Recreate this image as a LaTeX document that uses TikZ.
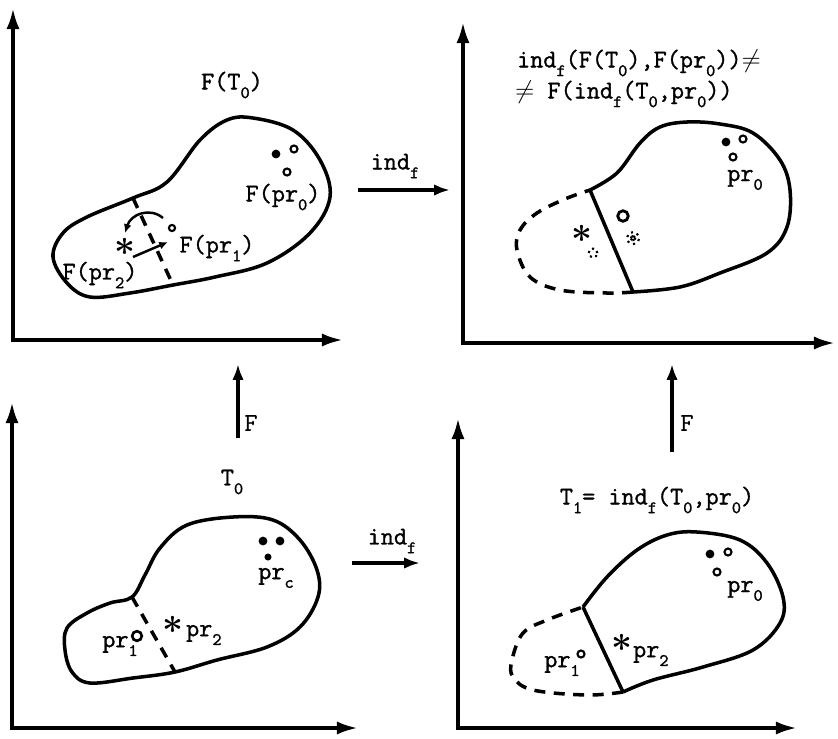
\documentclass[tikz,border=0pt]{standalone}
\usepackage{fontspec}
\setmonofont[FakeBold=1.2]{Latin Modern Mono}
\usetikzlibrary{arrows.meta,positioning,calc}
\newcommand{\lo}[1]{\raisebox{-0.8ex}{\fontsize{10}{10}\selectfont#1}}
\tikzstyle{axis} = [line width=2.1pt, {Latex[length=12pt,width=7.5pt]}-{Latex[length=12pt,width=7.5pt]}]
\tikzstyle{map} = [line width=2.1pt, -{Latex[length=9pt,width=6.5pt]}]
\tikzstyle{region} = [line width=2pt, line join=round]
\tikzstyle{cut} = [line width=2pt, dash pattern=on 2.2mm off 1.7mm]
\tikzstyle{lbl} = [font=\ttfamily\fontsize{14.5}{17}\selectfont, inner sep=1pt]
\tikzstyle{dot} = [circle, fill=black, inner sep=0, minimum size=5pt]
\tikzstyle{ring} = [circle, draw, line width=1.2pt, inner sep=0, minimum size=4pt]
\tikzstyle{asterisk} = [inner sep=0, font=\boldmath\fontsize{20}{20}\selectfont]

\begin{document}
\begin{tikzpicture}[x=0.02cm,y=-0.02cm]
        \useasboundingbox (0,0) rectangle (838,738);

        % axes
        \coordinate (tl-o) at (13,340);  \coordinate (tl-y) at (13,8);   \coordinate (tl-x) at (343,340);
        \coordinate (tr-o) at (463,343); \coordinate (tr-y) at (463,22);  \coordinate (tr-x) at (835,343);
        \coordinate (bl-o) at (12,728);  \coordinate (bl-y) at (12,402);  \coordinate (bl-x) at (358,728);
        \coordinate (br-o) at (458,728); \coordinate (br-y) at (458,418); \coordinate (br-x) at (797,728);
        \draw[axis] (tl-y) -- (tl-o) -- (tl-x);
        \draw[axis] (tr-y) -- (tr-o) -- (tr-x);
        \draw[axis] (bl-y) -- (bl-o) -- (bl-x);
        \draw[axis] (br-y) -- (br-o) -- (br-x);

        % top left: F(T_0)
        \draw[region] plot[smooth cycle, tension=0.6] coordinates {(253,118) (293,130) (320,160) (330,197) (310,233) (267,263) (215,277) (173,285) (130,293) (90,297) (67,283) (53,257) (63,233) (87,217) (133,198) (167,182) (200,140) (227,120)};
        \draw[cut] (133,198) -- (173,285);
        \node[lbl] (FT) at (232,85) {F(T\lo{0})};
        \node[dot] (a1) at (276,154) {};
        \node[ring] (a2) at (294,149) {};
        \node[ring] (a3) at (287,172) {};
        \node[lbl] (Fpr0) at (283,197) {F(pr\lo{0})};
        \node[asterisk] (s1) at (125,247) {$\ast$};
        \node[ring, minimum size=3.5pt] (r1) at (172,228) {};
        \node[lbl] (Fpr1) at (217,248) {F(pr\lo{1})};
        \node[lbl] (Fpr2) at (100,275) {F(pr\lo{2})};
        \coordinate (arc-a) at (163,218);
        \coordinate (arc-b) at (125,233);
        \coordinate (sw-a) at (133,257);
        \coordinate (sw-b) at (168,242);
        \draw[line width=1.4pt, -{Latex[length=5pt,width=4.5pt]}] (arc-a) .. controls (150,207) and (131,214) .. (arc-b);
        \draw[line width=1.4pt, -{Latex[length=5pt,width=4.5pt]}] (sw-a) -- (sw-b);

        % top right
        \draw[region] plot[smooth, tension=0.6] coordinates {(590,190) (617,173) (640,143) (660,127) (687,122) (720,124) (753,133) (780,160) (790,190) (787,227) (767,253) (720,273) (680,287) (633,292)};
        \draw[cut] plot[smooth, tension=0.6] coordinates {(633,292) (607,293) (560,290) (530,277) (517,250) (520,230) (537,213) (565,199) (590,190)};
        \draw[region] (590,190) -- (633,292);
        \node[lbl, anchor=west] (neq1) at (515,63) {ind\lo{f}(F(T\lo{0}),F(pr\lo{0}))$\neq$};
        \node[lbl, anchor=west] (neq2) at (513,94) {$\neq$ F(ind\lo{f}(T\lo{0},pr\lo{0}))};
        \node[dot] (b1) at (726,142) {};
        \node[ring] (b2) at (743,139) {};
        \node[ring] (b3) at (733,157) {};
        \node[lbl] (pr0t) at (745,180) {pr\lo{0}};
        \node[asterisk] (s2) at (582,234) {$\ast$};
        \node[ring, dotted, minimum size=5pt] (r2) at (593,253) {};
        \node[ring, line width=1.6pt, minimum size=6pt] (r3) at (623,216) {};
        \coordinate (dstar) at (633,238);
        \foreach \a in {20,80,140}
            \draw[densely dotted, line width=1.2pt] ($(dstar)+(\a:7)$) -- ($(dstar)+(\a+180:7)$);

        % bottom left: T_0
        \draw[region] plot[smooth cycle, tension=0.6] coordinates {(233,517) (273,520) (300,540) (317,570) (318,597) (300,627) (267,647) (217,660) (175,672) (133,678) (90,683) (72,672) (65,650) (67,628) (87,613) (110,603) (132,597) (145,575) (160,548) (187,525)};
        \draw[cut] (132,597) -- (175,672);
        \node[lbl] (T0) at (232,482) {T\lo{0}};
        \node[dot] (c1) at (263,541) {};
        \node[dot] (c2) at (280,541) {};
        \node[dot, minimum size=4pt] (c3) at (268,557) {};
        \node[lbl] (prc) at (276,578) {pr\lo{c}};
        \node[lbl] (pr1l) at (120,646) {pr\lo{1}};
        \node[ring, line width=1.5pt, minimum size=5.5pt] (r4) at (137,636) {};
        \node[asterisk] (s3) at (173,625) {$\ast$};
        \node[lbl, anchor=west] (pr2l) at (184,635) {pr\lo{2}};

        % bottom right: T_1
        \draw[region] plot[smooth, tension=0.6] coordinates {(583,607) (607,577) (637,550) (667,535) (697,532) (740,540) (767,563) (783,597) (780,623) (753,650) (703,667) (653,680) (623,692)};
        \draw[cut] plot[smooth, tension=0.6] coordinates {(623,692) (587,695) (533,690) (513,677) (512,660) (523,633) (547,620) (583,607)};
        \draw[region] (583,607) -- (623,692);
        \node[lbl] (T1) at (657,500) {T\lo{1}= ind\lo{f}(T\lo{0},pr\lo{0})};
        \node[dot] (d1) at (710,554) {};
        \node[ring] (d2) at (728,552) {};
        \node[ring] (d3) at (717,572) {};
        \node[lbl] (pr0b) at (745,591) {pr\lo{0}};
        \node[lbl] (pr1r) at (562,666) {pr\lo{1}};
        \node[ring] (r5) at (581,654) {};
        \node[asterisk] (s4) at (622,643) {$\ast$};
        \node[lbl, anchor=west] (pr2r) at (631,656) {pr\lo{2}};

        % maps
        \coordinate (it-a) at (358,190); \coordinate (it-b) at (450,190);
        \coordinate (ib-a) at (352,563); \coordinate (ib-b) at (420,563);
        \coordinate (fl-a) at (238,438); \coordinate (fl-b) at (238,364);
        \coordinate (fr-a) at (672,452); \coordinate (fr-b) at (672,364);
        \draw[map] (it-a) -- (it-b);
        \draw[map] (ib-a) -- (ib-b);
        \draw[map] (fl-a) -- (fl-b);
        \draw[map] (fr-a) -- (fr-b);
        \node[lbl] (indt) at (395,166) {ind\lo{f}};
        \node[lbl] (indb) at (392,541) {ind\lo{f}};
        \node[lbl] (Fl) at (251,423) {F};
        \node[lbl] (Fr) at (687,423) {F};
    \end{tikzpicture}
\end{document}
